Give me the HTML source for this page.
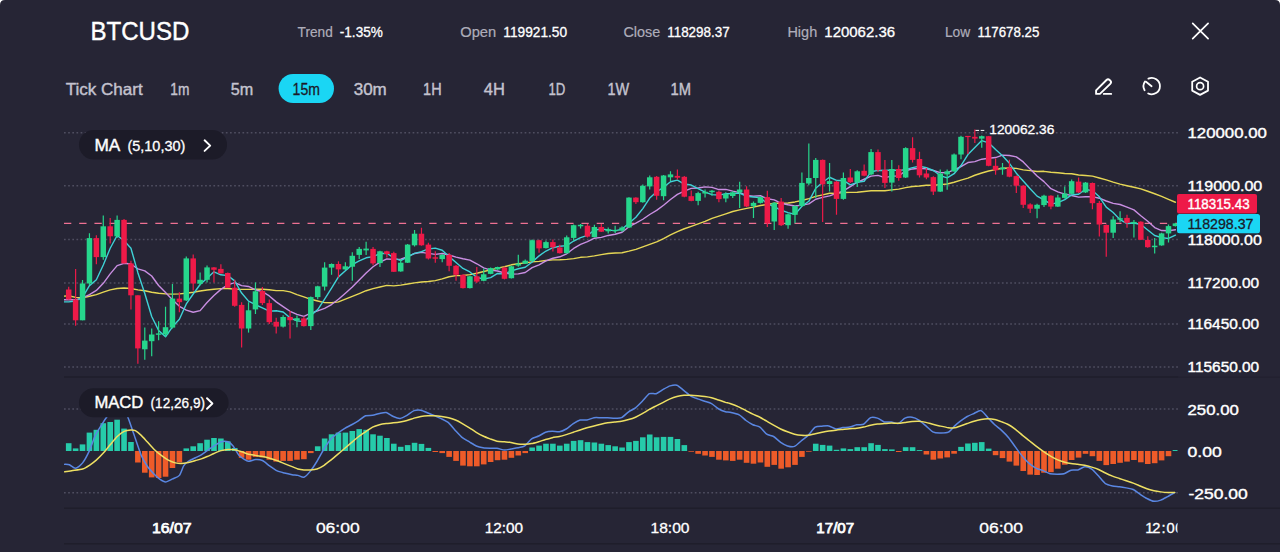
<!DOCTYPE html>
<html><head><meta charset="utf-8"><title>BTCUSD</title>
<style>html,body{margin:0;padding:0;background:#fff;overflow:hidden}svg{display:block}text{white-space:pre}</style></head>
<body>
<svg width="1280" height="552" viewBox="0 0 1280 552" font-family="'Liberation Sans', sans-serif">
<defs><clipPath id="cp"><rect x="64" y="110" width="1113.5" height="442"/></clipPath></defs>
<path d="M0,552 V5 Q0,0 5,0 H1275 Q1280,0 1280,5 V552 Z" fill="#262535"/>
<text x="90.4" y="40.4" font-size="25" fill="#fff" textLength="99.0" lengthAdjust="spacingAndGlyphs" stroke="#fff" stroke-width="0.4">BTCUSD</text>
<text x="297.6" y="36.7" font-size="14.5" fill="#aeadba" textLength="35.2" lengthAdjust="spacingAndGlyphs" stroke="#aeadba" stroke-width="0.2">Trend</text>
<text x="339.8" y="36.7" font-size="14.5" fill="#fff" textLength="43.0" lengthAdjust="spacingAndGlyphs" stroke="#fff" stroke-width="0.3">-1.35%</text>
<text x="460.2" y="36.7" font-size="14.5" fill="#aeadba" textLength="36.0" lengthAdjust="spacingAndGlyphs" stroke="#aeadba" stroke-width="0.2">Open</text>
<text x="503.3" y="36.7" font-size="14.5" fill="#fff" textLength="63.8" lengthAdjust="spacingAndGlyphs" stroke="#fff" stroke-width="0.3">119921.50</text>
<text x="623.4" y="36.7" font-size="14.5" fill="#aeadba" textLength="36.8" lengthAdjust="spacingAndGlyphs" stroke="#aeadba" stroke-width="0.2">Close</text>
<text x="667.2" y="36.7" font-size="14.5" fill="#fff" textLength="62.5" lengthAdjust="spacingAndGlyphs" stroke="#fff" stroke-width="0.3">118298.37</text>
<text x="787.4" y="36.7" font-size="14.5" fill="#aeadba" textLength="29.8" lengthAdjust="spacingAndGlyphs" stroke="#aeadba" stroke-width="0.2">High</text>
<text x="824.3" y="36.7" font-size="14.5" fill="#fff" textLength="70.8" lengthAdjust="spacingAndGlyphs" stroke="#fff" stroke-width="0.3">120062.36</text>
<text x="944.9" y="36.7" font-size="14.5" fill="#aeadba" textLength="25.3" lengthAdjust="spacingAndGlyphs" stroke="#aeadba" stroke-width="0.2">Low</text>
<text x="977.5" y="36.7" font-size="14.5" fill="#fff" textLength="61.9" lengthAdjust="spacingAndGlyphs" stroke="#fff" stroke-width="0.3">117678.25</text>
<path d="M1192.7,23.4 L1208.1,38.6 M1208.1,23.4 L1192.7,38.6" stroke="#fff" stroke-width="1.7" stroke-linecap="round" fill="none"/>
<text x="65.7" y="94.5" font-size="16.5" fill="#c4c3cf" textLength="77.0" lengthAdjust="spacingAndGlyphs" stroke="#c4c3cf" stroke-width="0.4">Tick Chart</text>
<rect x="278.6" y="74" width="55.4" height="29" rx="14.5" fill="#1ad6f4"/>
<text x="170.3" y="94.5" font-size="16.5" fill="#c4c3cf" textLength="19.1" lengthAdjust="spacingAndGlyphs" stroke="#c4c3cf" stroke-width="0.4">1m</text>
<text x="230.8" y="94.5" font-size="16.5" fill="#c4c3cf" textLength="22.5" lengthAdjust="spacingAndGlyphs" stroke="#c4c3cf" stroke-width="0.4">5m</text>
<text x="292.6" y="94.5" font-size="16.5" fill="#1b1a28" textLength="27.3" lengthAdjust="spacingAndGlyphs" stroke="#1b1a28" stroke-width="0.3">15m</text>
<text x="353.7" y="94.5" font-size="16.5" fill="#c4c3cf" textLength="33.1" lengthAdjust="spacingAndGlyphs" stroke="#c4c3cf" stroke-width="0.4">30m</text>
<text x="423.1" y="94.5" font-size="16.5" fill="#c4c3cf" textLength="18.5" lengthAdjust="spacingAndGlyphs" stroke="#c4c3cf" stroke-width="0.4">1H</text>
<text x="483.8" y="94.5" font-size="16.5" fill="#c4c3cf" textLength="21.1" lengthAdjust="spacingAndGlyphs" stroke="#c4c3cf" stroke-width="0.4">4H</text>
<text x="548.5" y="94.5" font-size="16.5" fill="#c4c3cf" textLength="16.9" lengthAdjust="spacingAndGlyphs" stroke="#c4c3cf" stroke-width="0.4">1D</text>
<text x="607.5" y="94.5" font-size="16.5" fill="#c4c3cf" textLength="21.7" lengthAdjust="spacingAndGlyphs" stroke="#c4c3cf" stroke-width="0.4">1W</text>
<text x="670.5" y="94.5" font-size="16.5" fill="#c4c3cf" textLength="20.5" lengthAdjust="spacingAndGlyphs" stroke="#c4c3cf" stroke-width="0.4">1M</text>
<g stroke="#fff" stroke-width="1.9" fill="none" stroke-linecap="round" stroke-linejoin="round"><path d="M1096.1,93.9 L1096.1,90.4 L1106.5,80 a2.2,2.2 0 0 1 3.1,0 l0.7,0.7 a2.2,2.2 0 0 1 0,3.1 L1099.9,93.9 Z"/><path d="M1103.8,93.9 H1111.2"/></g>
<g stroke="#fff" stroke-width="1.8" fill="none" stroke-linecap="round"><path d="M1148.4,78.6 A8.2,8.2 0 1 1 1148.2,93.5"/><path d="M1145,81.4 A8.2,8.2 0 0 0 1144.6,90.2"/><path d="M1146,81.8 L1151.6,86.2"/></g>
<path d="M1200.1,77.5 L1208.0,81.8 L1208.0,90.6 L1200.1,94.9 L1192.2,90.6 L1192.2,81.8 Z" stroke="#fff" stroke-width="1.8" fill="none" stroke-linejoin="round"/>
<circle cx="1200.1" cy="86.2" r="3.5" stroke="#fff" stroke-width="1.7" fill="none"/>
<line x1="64" y1="132.7" x2="1178.3" y2="132.7" stroke="#4f4e60" stroke-width="1.5" stroke-dasharray="1.7 2.45"/>
<line x1="64" y1="185.8" x2="1178.3" y2="185.8" stroke="#4f4e60" stroke-width="1.5" stroke-dasharray="1.7 2.45"/>
<line x1="64" y1="239.6" x2="1178.3" y2="239.6" stroke="#4f4e60" stroke-width="1.5" stroke-dasharray="1.7 2.45"/>
<line x1="64" y1="283.1" x2="1178.3" y2="283.1" stroke="#4f4e60" stroke-width="1.5" stroke-dasharray="1.7 2.45"/>
<line x1="64" y1="323.9" x2="1178.3" y2="323.9" stroke="#4f4e60" stroke-width="1.5" stroke-dasharray="1.7 2.45"/>
<line x1="64" y1="367.1" x2="1178.3" y2="367.1" stroke="#4f4e60" stroke-width="1.5" stroke-dasharray="1.7 2.45"/>
<line x1="64" y1="409" x2="1178.3" y2="409" stroke="#4f4e60" stroke-width="1.5" stroke-dasharray="1.7 2.45"/>
<line x1="64" y1="492.8" x2="1178.3" y2="492.8" stroke="#4f4e60" stroke-width="1.5" stroke-dasharray="1.7 2.45"/>
<line x1="64" y1="377" x2="1178.3" y2="377" stroke="#1f1e2b" stroke-width="1.6"/>
<line x1="1178.3" y1="377.3" x2="1280" y2="377.3" stroke="#222130" stroke-width="1.6"/>
<line x1="64" y1="508.3" x2="1280" y2="508.3" stroke="#1f1e2b" stroke-width="1.4"/>
<line x1="64" y1="543.8" x2="1280" y2="543.8" stroke="#1f1e2b" stroke-width="1.4"/>
<line x1="64" y1="223.3" x2="1177" y2="223.3" stroke="#ef7193" stroke-width="1.25" stroke-dasharray="7.3 7.92"/>
<g clip-path="url(#cp)">
<path d="M64.00,296.10 L68.70,295.80 L75.62,297.40 L82.53,297.90 L89.45,296.30 L96.37,294.60 L103.28,292.20 L110.20,289.90 L117.12,288.50 L124.04,288.00 L130.95,288.50 L137.87,289.90 L144.79,290.80 L151.70,292.20 L158.62,293.20 L165.54,293.90 L172.45,294.10 L179.37,293.90 L186.29,293.20 L193.21,292.30 L200.12,291.00 L207.04,290.00 L213.96,289.30 L220.87,288.60 L227.79,288.50 L234.71,289.10 L241.62,289.40 L248.54,289.40 L255.46,289.20 L262.38,289.20 L269.29,289.70 L276.21,290.64 L283.13,290.58 L290.04,291.84 L296.96,294.55 L303.88,296.89 L310.80,299.29 L317.71,301.00 L324.63,302.63 L331.55,302.70 L338.46,301.87 L345.38,299.18 L352.30,296.39 L359.21,293.54 L366.13,290.71 L373.05,288.59 L379.96,287.01 L386.88,285.40 L393.80,285.85 L400.72,285.16 L407.63,283.98 L414.55,282.86 L421.47,282.04 L428.38,281.55 L435.30,280.58 L442.22,278.88 L449.13,276.79 L456.05,275.61 L462.97,275.50 L469.89,274.61 L476.80,273.25 L483.72,271.51 L490.64,269.88 L497.55,268.11 L504.47,266.79 L511.39,264.80 L518.30,263.69 L525.22,262.83 L532.14,261.92 L539.06,261.40 L545.97,260.49 L552.89,259.86 L559.81,259.77 L566.72,259.38 L573.64,258.60 L580.56,257.32 L587.48,256.83 L594.39,255.93 L601.31,254.59 L608.23,253.48 L615.14,252.99 L622.06,252.78 L628.98,251.19 L635.89,249.31 L642.81,246.88 L649.73,244.30 L656.64,241.96 L663.56,238.65 L670.48,234.86 L677.40,231.58 L684.31,228.75 L691.23,226.30 L698.15,223.80 L705.06,221.29 L711.98,218.36 L718.90,216.12 L725.82,213.79 L732.73,211.51 L739.65,209.82 L746.57,208.43 L753.48,207.12 L760.40,205.45 L767.32,204.45 L774.23,203.30 L781.15,203.30 L788.07,202.95 L794.99,201.94 L801.90,200.47 L808.82,198.68 L815.74,196.36 L822.65,194.85 L829.57,193.30 L836.49,193.34 L843.40,192.54 L850.32,192.42 L857.24,192.22 L864.15,191.55 L871.07,190.77 L877.99,190.63 L884.91,190.80 L891.82,189.88 L898.74,189.11 L905.66,187.61 L912.57,186.55 L919.49,186.04 L926.41,185.32 L933.33,185.24 L940.24,184.61 L947.16,184.00 L954.08,182.27 L960.99,180.07 L967.91,178.06 L974.83,175.23 L981.74,173.01 L988.66,171.03 L995.58,169.56 L1002.50,168.28 L1009.41,168.07 L1016.33,168.33 L1023.25,169.83 L1030.16,170.64 L1037.08,171.43 L1044.00,171.32 L1050.91,172.27 L1057.83,172.78 L1064.75,173.52 L1071.66,173.71 L1078.58,175.05 L1085.50,175.46 L1092.42,176.14 L1099.33,177.99 L1106.25,179.81 L1113.17,182.19 L1120.08,184.14 L1127.00,185.72 L1133.92,187.20 L1140.84,188.81 L1147.75,191.26 L1154.67,193.74 L1161.59,196.37 L1168.50,199.35 L1175.42,202.24" stroke="#e6d755" stroke-width="1.4" fill="none" stroke-linejoin="round" stroke-linecap="round"/>
<path d="M64.00,299.80 L68.70,299.80 L75.62,299.80 L82.53,297.90 L89.45,294.60 L96.37,290.40 L103.28,283.30 L110.20,273.90 L117.12,265.60 L124.04,263.30 L130.95,263.97 L137.87,268.86 L144.79,270.89 L151.70,275.99 L158.62,285.52 L165.54,292.53 L172.45,299.76 L179.37,306.35 L186.29,310.20 L193.21,312.21 L200.12,310.66 L207.04,302.56 L213.96,295.48 L220.87,289.37 L227.79,284.81 L234.71,282.67 L241.62,285.66 L248.54,286.47 L255.46,289.76 L262.38,291.72 L269.29,295.96 L276.21,301.88 L283.13,306.60 L290.04,311.28 L296.96,314.32 L303.88,316.35 L310.80,313.21 L317.71,310.81 L324.63,308.44 L331.55,304.53 L338.46,299.25 L345.38,293.22 L352.30,287.10 L359.21,279.97 L366.13,273.01 L373.05,266.74 L379.96,262.16 L386.88,258.93 L393.80,259.35 L400.72,259.22 L407.63,256.74 L414.55,253.48 L421.47,252.43 L428.38,253.39 L435.30,254.40 L442.22,253.55 L449.13,255.00 L456.05,257.08 L462.97,258.71 L469.89,260.07 L476.80,263.77 L483.72,267.83 L490.64,270.11 L497.55,270.96 L504.47,272.97 L511.39,274.11 L518.30,273.90 L525.22,272.49 L532.14,267.70 L539.06,264.91 L545.97,260.96 L552.89,258.26 L559.81,256.77 L566.72,253.80 L573.64,248.44 L580.56,244.29 L587.48,241.58 L594.39,238.21 L601.31,237.36 L608.23,235.45 L615.14,234.23 L622.06,232.25 L628.98,226.69 L635.89,223.18 L642.81,219.24 L649.73,214.49 L656.64,210.41 L663.56,205.26 L670.48,199.53 L677.40,194.37 L684.31,191.05 L691.23,188.39 L698.15,187.94 L705.06,186.90 L711.98,187.39 L718.90,189.57 L725.82,189.39 L732.73,191.07 L739.65,192.58 L746.57,195.46 L753.48,196.08 L760.40,195.70 L767.32,198.72 L774.23,199.83 L781.15,203.28 L788.07,204.80 L794.99,206.01 L801.90,205.07 L808.82,203.92 L815.74,199.26 L822.65,197.41 L829.57,195.81 L836.49,193.37 L843.40,190.88 L850.32,186.58 L857.24,182.28 L864.15,179.24 L871.07,176.16 L877.99,175.38 L884.91,177.68 L891.82,176.14 L898.74,175.83 L905.66,170.75 L912.57,168.94 L919.49,168.25 L926.41,168.87 L933.33,170.46 L940.24,172.60 L947.16,172.71 L954.08,169.87 L960.99,166.65 L967.91,162.53 L974.83,161.58 L981.74,159.21 L988.66,158.26 L995.58,157.54 L1002.50,155.14 L1009.41,155.46 L1016.33,156.90 L1023.25,161.93 L1030.16,169.12 L1037.08,175.92 L1044.00,181.63 L1050.91,188.67 L1057.83,191.84 L1064.75,194.16 L1071.66,195.52 L1078.58,197.09 L1085.50,196.78 L1092.42,196.62 L1099.33,198.20 L1106.25,200.99 L1113.17,203.37 L1120.08,204.53 L1127.00,207.06 L1133.92,209.90 L1140.84,215.76 L1147.75,221.24 L1154.67,227.55 L1161.59,230.57 L1168.50,230.73 L1175.42,229.80" stroke="#c98ee2" stroke-width="1.4" fill="none" stroke-linejoin="round" stroke-linecap="round"/>
<path d="M64.00,301.90 L68.70,301.90 L75.62,301.00 L82.53,297.40 L89.45,285.70 L96.37,279.70 L103.28,265.06 L110.20,248.26 L117.12,235.54 L124.04,240.60 L130.95,248.24 L137.87,272.66 L144.79,293.52 L151.70,316.44 L158.62,330.44 L165.54,336.82 L172.45,326.86 L179.37,319.18 L186.29,303.96 L193.21,293.98 L200.12,284.50 L207.04,278.26 L213.96,271.78 L220.87,274.78 L227.79,275.64 L234.71,280.84 L241.62,293.06 L248.54,301.16 L255.46,304.74 L262.38,307.80 L269.29,311.08 L276.21,310.70 L283.13,312.04 L290.04,317.82 L296.96,320.84 L303.88,321.62 L310.80,315.72 L317.71,309.58 L324.63,299.06 L331.55,288.22 L338.46,276.88 L345.38,270.72 L352.30,264.62 L359.21,260.88 L366.13,257.80 L373.05,256.60 L379.96,253.60 L386.88,253.24 L393.80,257.82 L400.72,260.64 L407.63,256.88 L414.55,253.36 L421.47,251.62 L428.38,248.96 L435.30,248.16 L442.22,250.22 L449.13,256.64 L456.05,262.54 L462.97,268.46 L469.89,271.98 L476.80,277.32 L483.72,279.02 L490.64,277.68 L497.55,273.46 L504.47,273.96 L511.39,270.90 L518.30,268.78 L525.22,267.30 L532.14,261.94 L539.06,255.86 L545.97,251.02 L552.89,247.74 L559.81,246.24 L566.72,245.66 L573.64,241.02 L580.56,237.56 L587.48,235.42 L594.39,230.18 L601.31,229.06 L608.23,229.88 L615.14,230.90 L622.06,229.08 L628.98,223.20 L635.89,217.30 L642.81,208.60 L649.73,198.08 L656.64,191.74 L663.56,187.32 L670.48,181.76 L677.40,180.14 L684.31,184.02 L691.23,185.04 L698.15,188.56 L705.06,192.04 L711.98,194.64 L718.90,195.12 L725.82,193.74 L732.73,193.58 L739.65,193.12 L746.57,196.28 L753.48,197.04 L760.40,197.66 L767.32,203.86 L774.23,206.54 L781.15,210.28 L788.07,212.56 L794.99,214.36 L801.90,206.28 L808.82,201.30 L815.74,188.24 L822.65,182.26 L829.57,177.26 L836.49,180.46 L843.40,180.46 L850.32,184.92 L857.24,182.30 L864.15,181.22 L871.07,171.86 L877.99,170.30 L884.91,170.44 L891.82,169.98 L898.74,170.44 L905.66,169.64 L912.57,167.58 L919.49,166.06 L926.41,167.76 L933.33,170.48 L940.24,175.56 L947.16,177.84 L954.08,173.68 L960.99,165.54 L967.91,154.58 L974.83,147.60 L981.74,140.58 L988.66,142.84 L995.58,149.54 L1002.50,155.70 L1009.41,163.32 L1016.33,173.22 L1023.25,181.02 L1030.16,188.70 L1037.08,196.14 L1044.00,199.94 L1050.91,204.12 L1057.83,202.66 L1064.75,199.62 L1071.66,194.90 L1078.58,194.24 L1085.50,189.44 L1092.42,190.58 L1099.33,196.78 L1106.25,207.08 L1113.17,212.50 L1120.08,219.62 L1127.00,223.54 L1133.92,223.02 L1140.84,224.44 L1147.75,229.98 L1154.67,235.48 L1161.59,237.60 L1168.50,238.44 L1175.42,235.16" stroke="#3fd2d6" stroke-width="1.4" fill="none" stroke-linejoin="round" stroke-linecap="round"/>
<line x1="68.70" y1="286.8" x2="68.70" y2="299.5" stroke="#ee1a48" stroke-width="1.2"/>
<rect x="65.95" y="289.5" width="5.5" height="10.00" fill="#ee1a48"/>
<line x1="75.62" y1="268.9" x2="75.62" y2="325.8" stroke="#ee1a48" stroke-width="1.2"/>
<rect x="72.87" y="299.5" width="5.5" height="20.80" fill="#ee1a48"/>
<line x1="82.53" y1="280.0" x2="82.53" y2="320.3" stroke="#26d68c" stroke-width="1.2"/>
<rect x="79.78" y="283.5" width="5.5" height="36.80" fill="#26d68c"/>
<line x1="89.45" y1="233.2" x2="89.45" y2="285.0" stroke="#26d68c" stroke-width="1.2"/>
<rect x="86.70" y="238.1" width="5.5" height="45.40" fill="#26d68c"/>
<line x1="96.37" y1="235.3" x2="96.37" y2="264.3" stroke="#ee1a48" stroke-width="1.2"/>
<rect x="93.62" y="238.1" width="5.5" height="19.00" fill="#ee1a48"/>
<line x1="103.28" y1="215.4" x2="103.28" y2="259.8" stroke="#26d68c" stroke-width="1.2"/>
<rect x="100.53" y="226.3" width="5.5" height="30.80" fill="#26d68c"/>
<line x1="110.20" y1="218.1" x2="110.20" y2="243.5" stroke="#ee1a48" stroke-width="1.2"/>
<rect x="107.45" y="226.3" width="5.5" height="10.00" fill="#ee1a48"/>
<line x1="117.12" y1="215.4" x2="117.12" y2="238.0" stroke="#26d68c" stroke-width="1.2"/>
<rect x="114.37" y="219.9" width="5.5" height="16.40" fill="#26d68c"/>
<line x1="124.04" y1="219.0" x2="124.04" y2="263.4" stroke="#ee1a48" stroke-width="1.2"/>
<rect x="121.29" y="219.9" width="5.5" height="43.50" fill="#ee1a48"/>
<line x1="130.95" y1="260.7" x2="130.95" y2="309.4" stroke="#ee1a48" stroke-width="1.2"/>
<rect x="128.20" y="263.4" width="5.5" height="31.90" fill="#ee1a48"/>
<line x1="137.87" y1="295.3" x2="137.87" y2="363.8" stroke="#ee1a48" stroke-width="1.2"/>
<rect x="135.12" y="295.3" width="5.5" height="53.10" fill="#ee1a48"/>
<line x1="144.79" y1="327.6" x2="144.79" y2="359.8" stroke="#26d68c" stroke-width="1.2"/>
<rect x="142.04" y="340.6" width="5.5" height="8.70" fill="#26d68c"/>
<line x1="151.70" y1="328.5" x2="151.70" y2="356.2" stroke="#26d68c" stroke-width="1.2"/>
<rect x="148.95" y="334.5" width="5.5" height="6.70" fill="#26d68c"/>
<line x1="158.62" y1="321.2" x2="158.62" y2="340.3" stroke="#26d68c" stroke-width="1.2"/>
<rect x="155.87" y="333.4" width="5.5" height="1.40" fill="#26d68c"/>
<line x1="165.54" y1="306.7" x2="165.54" y2="336.6" stroke="#26d68c" stroke-width="1.2"/>
<rect x="162.79" y="327.2" width="5.5" height="7.30" fill="#26d68c"/>
<line x1="172.45" y1="284.0" x2="172.45" y2="328.5" stroke="#26d68c" stroke-width="1.2"/>
<rect x="169.70" y="298.6" width="5.5" height="29.00" fill="#26d68c"/>
<line x1="179.37" y1="292.3" x2="179.37" y2="312.2" stroke="#ee1a48" stroke-width="1.2"/>
<rect x="176.62" y="298.6" width="5.5" height="3.60" fill="#ee1a48"/>
<line x1="186.29" y1="256.6" x2="186.29" y2="301.0" stroke="#26d68c" stroke-width="1.2"/>
<rect x="183.54" y="258.4" width="5.5" height="42.00" fill="#26d68c"/>
<line x1="193.21" y1="254.4" x2="193.21" y2="290.5" stroke="#ee1a48" stroke-width="1.2"/>
<rect x="190.46" y="258.4" width="5.5" height="25.10" fill="#ee1a48"/>
<line x1="200.12" y1="272.5" x2="200.12" y2="285.2" stroke="#26d68c" stroke-width="1.2"/>
<rect x="197.37" y="279.8" width="5.5" height="3.90" fill="#26d68c"/>
<line x1="207.04" y1="265.6" x2="207.04" y2="282.5" stroke="#26d68c" stroke-width="1.2"/>
<rect x="204.29" y="267.4" width="5.5" height="12.40" fill="#26d68c"/>
<line x1="213.96" y1="267.1" x2="213.96" y2="282.5" stroke="#ee1a48" stroke-width="1.2"/>
<rect x="211.21" y="267.4" width="5.5" height="2.40" fill="#ee1a48"/>
<line x1="220.87" y1="264.3" x2="220.87" y2="273.4" stroke="#ee1a48" stroke-width="1.2"/>
<rect x="218.12" y="268.9" width="5.5" height="4.50" fill="#ee1a48"/>
<line x1="227.79" y1="272.5" x2="227.79" y2="287.8" stroke="#ee1a48" stroke-width="1.2"/>
<rect x="225.04" y="273.0" width="5.5" height="14.80" fill="#ee1a48"/>
<line x1="234.71" y1="279.8" x2="234.71" y2="306.7" stroke="#ee1a48" stroke-width="1.2"/>
<rect x="231.96" y="287.7" width="5.5" height="18.10" fill="#ee1a48"/>
<line x1="241.62" y1="302.2" x2="241.62" y2="347.5" stroke="#ee1a48" stroke-width="1.2"/>
<rect x="238.88" y="304.9" width="5.5" height="23.60" fill="#ee1a48"/>
<line x1="248.54" y1="302.2" x2="248.54" y2="332.6" stroke="#26d68c" stroke-width="1.2"/>
<rect x="245.79" y="310.3" width="5.5" height="18.20" fill="#26d68c"/>
<line x1="255.46" y1="282.4" x2="255.46" y2="314.0" stroke="#26d68c" stroke-width="1.2"/>
<rect x="252.71" y="291.3" width="5.5" height="18.10" fill="#26d68c"/>
<line x1="262.38" y1="286.9" x2="262.38" y2="304.9" stroke="#ee1a48" stroke-width="1.2"/>
<rect x="259.63" y="291.0" width="5.5" height="12.10" fill="#ee1a48"/>
<line x1="269.29" y1="299.5" x2="269.29" y2="323.9" stroke="#ee1a48" stroke-width="1.2"/>
<rect x="266.54" y="303.1" width="5.5" height="19.10" fill="#ee1a48"/>
<line x1="276.21" y1="317.8" x2="276.21" y2="333.4" stroke="#ee1a48" stroke-width="1.2"/>
<rect x="273.46" y="321.8" width="5.5" height="4.80" fill="#ee1a48"/>
<line x1="283.13" y1="315.2" x2="283.13" y2="327.6" stroke="#26d68c" stroke-width="1.2"/>
<rect x="280.38" y="317.0" width="5.5" height="9.60" fill="#26d68c"/>
<line x1="290.04" y1="311.0" x2="290.04" y2="338.5" stroke="#ee1a48" stroke-width="1.2"/>
<rect x="287.29" y="317.0" width="5.5" height="3.20" fill="#ee1a48"/>
<line x1="296.96" y1="315.5" x2="296.96" y2="327.2" stroke="#26d68c" stroke-width="1.2"/>
<rect x="294.21" y="318.2" width="5.5" height="2.40" fill="#26d68c"/>
<line x1="303.88" y1="316.4" x2="303.88" y2="326.5" stroke="#ee1a48" stroke-width="1.2"/>
<rect x="301.13" y="318.4" width="5.5" height="7.70" fill="#ee1a48"/>
<line x1="310.80" y1="296.6" x2="310.80" y2="329.9" stroke="#26d68c" stroke-width="1.2"/>
<rect x="308.05" y="297.1" width="5.5" height="29.00" fill="#26d68c"/>
<line x1="317.71" y1="285.7" x2="317.71" y2="299.3" stroke="#26d68c" stroke-width="1.2"/>
<rect x="314.96" y="286.3" width="5.5" height="10.80" fill="#26d68c"/>
<line x1="324.63" y1="262.2" x2="324.63" y2="290.6" stroke="#26d68c" stroke-width="1.2"/>
<rect x="321.88" y="267.6" width="5.5" height="19.00" fill="#26d68c"/>
<line x1="331.55" y1="263.4" x2="331.55" y2="274.8" stroke="#26d68c" stroke-width="1.2"/>
<rect x="328.80" y="264.0" width="5.5" height="3.60" fill="#26d68c"/>
<line x1="338.46" y1="261.3" x2="338.46" y2="277.6" stroke="#ee1a48" stroke-width="1.2"/>
<rect x="335.71" y="264.0" width="5.5" height="5.40" fill="#ee1a48"/>
<line x1="345.38" y1="262.2" x2="345.38" y2="270.0" stroke="#26d68c" stroke-width="1.2"/>
<rect x="342.63" y="266.3" width="5.5" height="3.10" fill="#26d68c"/>
<line x1="352.30" y1="252.2" x2="352.30" y2="280.8" stroke="#26d68c" stroke-width="1.2"/>
<rect x="349.55" y="255.8" width="5.5" height="10.90" fill="#26d68c"/>
<line x1="359.21" y1="247.1" x2="359.21" y2="259.1" stroke="#26d68c" stroke-width="1.2"/>
<rect x="356.46" y="248.9" width="5.5" height="6.00" fill="#26d68c"/>
<line x1="366.13" y1="241.7" x2="366.13" y2="254.9" stroke="#26d68c" stroke-width="1.2"/>
<rect x="363.38" y="248.6" width="5.5" height="1.80" fill="#26d68c"/>
<line x1="373.05" y1="247.1" x2="373.05" y2="265.2" stroke="#ee1a48" stroke-width="1.2"/>
<rect x="370.30" y="248.9" width="5.5" height="14.50" fill="#ee1a48"/>
<line x1="379.96" y1="250.7" x2="379.96" y2="267.0" stroke="#26d68c" stroke-width="1.2"/>
<rect x="377.21" y="251.3" width="5.5" height="11.80" fill="#26d68c"/>
<line x1="386.88" y1="250.7" x2="386.88" y2="257.6" stroke="#ee1a48" stroke-width="1.2"/>
<rect x="384.13" y="251.3" width="5.5" height="2.70" fill="#ee1a48"/>
<line x1="393.80" y1="251.8" x2="393.80" y2="272.1" stroke="#ee1a48" stroke-width="1.2"/>
<rect x="391.05" y="253.1" width="5.5" height="18.70" fill="#ee1a48"/>
<line x1="400.72" y1="259.4" x2="400.72" y2="271.8" stroke="#26d68c" stroke-width="1.2"/>
<rect x="397.97" y="262.7" width="5.5" height="8.70" fill="#26d68c"/>
<line x1="407.63" y1="244.0" x2="407.63" y2="263.1" stroke="#26d68c" stroke-width="1.2"/>
<rect x="404.88" y="244.6" width="5.5" height="18.10" fill="#26d68c"/>
<line x1="414.55" y1="230.1" x2="414.55" y2="246.4" stroke="#26d68c" stroke-width="1.2"/>
<rect x="411.80" y="233.7" width="5.5" height="11.60" fill="#26d68c"/>
<line x1="421.47" y1="227.7" x2="421.47" y2="245.8" stroke="#ee1a48" stroke-width="1.2"/>
<rect x="418.72" y="233.7" width="5.5" height="11.60" fill="#ee1a48"/>
<line x1="428.38" y1="242.8" x2="428.38" y2="259.4" stroke="#ee1a48" stroke-width="1.2"/>
<rect x="425.63" y="244.6" width="5.5" height="13.90" fill="#ee1a48"/>
<line x1="435.30" y1="251.3" x2="435.30" y2="262.7" stroke="#ee1a48" stroke-width="1.2"/>
<rect x="432.55" y="257.3" width="5.5" height="1.40" fill="#ee1a48"/>
<line x1="442.22" y1="254.0" x2="442.22" y2="262.2" stroke="#26d68c" stroke-width="1.2"/>
<rect x="439.47" y="254.9" width="5.5" height="4.20" fill="#26d68c"/>
<line x1="449.13" y1="253.1" x2="449.13" y2="271.2" stroke="#ee1a48" stroke-width="1.2"/>
<rect x="446.38" y="254.9" width="5.5" height="10.90" fill="#ee1a48"/>
<line x1="456.05" y1="264.9" x2="456.05" y2="280.8" stroke="#ee1a48" stroke-width="1.2"/>
<rect x="453.30" y="265.8" width="5.5" height="9.00" fill="#ee1a48"/>
<line x1="462.97" y1="274.3" x2="462.97" y2="288.4" stroke="#ee1a48" stroke-width="1.2"/>
<rect x="460.22" y="274.8" width="5.5" height="13.30" fill="#ee1a48"/>
<line x1="469.89" y1="275.8" x2="469.89" y2="288.4" stroke="#26d68c" stroke-width="1.2"/>
<rect x="467.14" y="276.3" width="5.5" height="11.80" fill="#26d68c"/>
<line x1="476.80" y1="267.1" x2="476.80" y2="283.0" stroke="#ee1a48" stroke-width="1.2"/>
<rect x="474.05" y="276.3" width="5.5" height="5.30" fill="#ee1a48"/>
<line x1="483.72" y1="268.5" x2="483.72" y2="281.2" stroke="#26d68c" stroke-width="1.2"/>
<rect x="480.97" y="274.3" width="5.5" height="6.50" fill="#26d68c"/>
<line x1="490.64" y1="267.6" x2="490.64" y2="274.3" stroke="#26d68c" stroke-width="1.2"/>
<rect x="487.89" y="268.1" width="5.5" height="5.80" fill="#26d68c"/>
<line x1="497.55" y1="266.7" x2="497.55" y2="269.8" stroke="#26d68c" stroke-width="1.2"/>
<rect x="494.80" y="267.0" width="5.5" height="2.40" fill="#26d68c"/>
<line x1="504.47" y1="266.7" x2="504.47" y2="279.4" stroke="#ee1a48" stroke-width="1.2"/>
<rect x="501.72" y="267.6" width="5.5" height="11.20" fill="#ee1a48"/>
<line x1="511.39" y1="265.8" x2="511.39" y2="278.5" stroke="#26d68c" stroke-width="1.2"/>
<rect x="508.64" y="266.3" width="5.5" height="11.90" fill="#26d68c"/>
<line x1="518.30" y1="254.7" x2="518.30" y2="266.7" stroke="#26d68c" stroke-width="1.2"/>
<rect x="515.55" y="263.7" width="5.5" height="1.90" fill="#26d68c"/>
<line x1="525.22" y1="259.6" x2="525.22" y2="264.0" stroke="#26d68c" stroke-width="1.2"/>
<rect x="522.47" y="260.7" width="5.5" height="3.00" fill="#26d68c"/>
<line x1="532.14" y1="239.4" x2="532.14" y2="261.2" stroke="#26d68c" stroke-width="1.2"/>
<rect x="529.39" y="240.2" width="5.5" height="20.80" fill="#26d68c"/>
<line x1="539.06" y1="239.8" x2="539.06" y2="252.7" stroke="#ee1a48" stroke-width="1.2"/>
<rect x="536.31" y="240.2" width="5.5" height="8.20" fill="#ee1a48"/>
<line x1="545.97" y1="240.5" x2="545.97" y2="248.4" stroke="#26d68c" stroke-width="1.2"/>
<rect x="543.22" y="242.1" width="5.5" height="6.00" fill="#26d68c"/>
<line x1="552.89" y1="239.6" x2="552.89" y2="251.5" stroke="#ee1a48" stroke-width="1.2"/>
<rect x="550.14" y="242.1" width="5.5" height="5.20" fill="#ee1a48"/>
<line x1="559.81" y1="244.8" x2="559.81" y2="253.5" stroke="#ee1a48" stroke-width="1.2"/>
<rect x="557.06" y="247.5" width="5.5" height="5.70" fill="#ee1a48"/>
<line x1="566.72" y1="235.6" x2="566.72" y2="253.6" stroke="#26d68c" stroke-width="1.2"/>
<rect x="563.97" y="237.3" width="5.5" height="15.90" fill="#26d68c"/>
<line x1="573.64" y1="224.5" x2="573.64" y2="240.8" stroke="#26d68c" stroke-width="1.2"/>
<rect x="570.89" y="225.2" width="5.5" height="12.70" fill="#26d68c"/>
<line x1="580.56" y1="223.9" x2="580.56" y2="228.4" stroke="#26d68c" stroke-width="1.2"/>
<rect x="577.81" y="224.8" width="5.5" height="1.50" fill="#26d68c"/>
<line x1="587.48" y1="223.9" x2="587.48" y2="237.5" stroke="#ee1a48" stroke-width="1.2"/>
<rect x="584.73" y="225.7" width="5.5" height="10.90" fill="#ee1a48"/>
<line x1="594.39" y1="224.8" x2="594.39" y2="237.5" stroke="#26d68c" stroke-width="1.2"/>
<rect x="591.64" y="227.0" width="5.5" height="10.10" fill="#26d68c"/>
<line x1="601.31" y1="223.9" x2="601.31" y2="232.1" stroke="#ee1a48" stroke-width="1.2"/>
<rect x="598.56" y="227.0" width="5.5" height="4.70" fill="#ee1a48"/>
<line x1="608.23" y1="227.5" x2="608.23" y2="233.5" stroke="#26d68c" stroke-width="1.2"/>
<rect x="605.48" y="229.3" width="5.5" height="2.00" fill="#26d68c"/>
<line x1="615.14" y1="225.7" x2="615.14" y2="233.0" stroke="#26d68c" stroke-width="1.2"/>
<rect x="612.39" y="229.9" width="5.5" height="1.20" fill="#26d68c"/>
<line x1="622.06" y1="226.3" x2="622.06" y2="231.7" stroke="#26d68c" stroke-width="1.2"/>
<rect x="619.31" y="227.5" width="5.5" height="3.10" fill="#26d68c"/>
<line x1="628.98" y1="197.3" x2="628.98" y2="228.1" stroke="#26d68c" stroke-width="1.2"/>
<rect x="626.23" y="197.6" width="5.5" height="29.90" fill="#26d68c"/>
<line x1="635.89" y1="197.3" x2="635.89" y2="204.0" stroke="#ee1a48" stroke-width="1.2"/>
<rect x="633.14" y="197.6" width="5.5" height="4.60" fill="#ee1a48"/>
<line x1="642.81" y1="184.6" x2="642.81" y2="202.7" stroke="#26d68c" stroke-width="1.2"/>
<rect x="640.06" y="185.8" width="5.5" height="16.40" fill="#26d68c"/>
<line x1="649.73" y1="175.5" x2="649.73" y2="189.5" stroke="#26d68c" stroke-width="1.2"/>
<rect x="646.98" y="177.3" width="5.5" height="9.10" fill="#26d68c"/>
<line x1="656.64" y1="175.9" x2="656.64" y2="199.8" stroke="#ee1a48" stroke-width="1.2"/>
<rect x="653.89" y="176.8" width="5.5" height="19.00" fill="#ee1a48"/>
<line x1="663.56" y1="175.0" x2="663.56" y2="200.3" stroke="#26d68c" stroke-width="1.2"/>
<rect x="660.81" y="175.5" width="5.5" height="20.70" fill="#26d68c"/>
<line x1="670.48" y1="171.3" x2="670.48" y2="181.0" stroke="#26d68c" stroke-width="1.2"/>
<rect x="667.73" y="174.4" width="5.5" height="2.90" fill="#26d68c"/>
<line x1="677.40" y1="169.5" x2="677.40" y2="179.5" stroke="#ee1a48" stroke-width="1.2"/>
<rect x="674.65" y="175.9" width="5.5" height="1.80" fill="#ee1a48"/>
<line x1="684.31" y1="175.9" x2="684.31" y2="197.3" stroke="#ee1a48" stroke-width="1.2"/>
<rect x="681.56" y="176.8" width="5.5" height="19.90" fill="#ee1a48"/>
<line x1="691.23" y1="190.4" x2="691.23" y2="201.3" stroke="#ee1a48" stroke-width="1.2"/>
<rect x="688.48" y="196.2" width="5.5" height="4.70" fill="#ee1a48"/>
<line x1="698.15" y1="191.8" x2="698.15" y2="205.2" stroke="#26d68c" stroke-width="1.2"/>
<rect x="695.40" y="193.1" width="5.5" height="7.80" fill="#26d68c"/>
<line x1="705.06" y1="189.5" x2="705.06" y2="197.6" stroke="#26d68c" stroke-width="1.2"/>
<rect x="702.31" y="191.8" width="5.5" height="1.70" fill="#26d68c"/>
<line x1="711.98" y1="190.0" x2="711.98" y2="195.8" stroke="#26d68c" stroke-width="1.2"/>
<rect x="709.23" y="190.7" width="5.5" height="1.50" fill="#26d68c"/>
<line x1="718.90" y1="190.7" x2="718.90" y2="202.2" stroke="#ee1a48" stroke-width="1.2"/>
<rect x="716.15" y="191.8" width="5.5" height="7.30" fill="#ee1a48"/>
<line x1="725.82" y1="192.2" x2="725.82" y2="202.2" stroke="#26d68c" stroke-width="1.2"/>
<rect x="723.07" y="194.0" width="5.5" height="4.50" fill="#26d68c"/>
<line x1="732.73" y1="191.3" x2="732.73" y2="198.0" stroke="#26d68c" stroke-width="1.2"/>
<rect x="729.98" y="192.3" width="5.5" height="3.70" fill="#26d68c"/>
<line x1="739.65" y1="181.7" x2="739.65" y2="207.9" stroke="#26d68c" stroke-width="1.2"/>
<rect x="736.90" y="189.5" width="5.5" height="3.00" fill="#26d68c"/>
<line x1="746.57" y1="186.2" x2="746.57" y2="207.0" stroke="#ee1a48" stroke-width="1.2"/>
<rect x="743.82" y="189.5" width="5.5" height="17.00" fill="#ee1a48"/>
<line x1="753.48" y1="201.6" x2="753.48" y2="217.9" stroke="#26d68c" stroke-width="1.2"/>
<rect x="750.73" y="202.9" width="5.5" height="3.20" fill="#26d68c"/>
<line x1="760.40" y1="196.2" x2="760.40" y2="203.4" stroke="#26d68c" stroke-width="1.2"/>
<rect x="757.65" y="197.1" width="5.5" height="5.80" fill="#26d68c"/>
<line x1="767.32" y1="190.7" x2="767.32" y2="227.0" stroke="#ee1a48" stroke-width="1.2"/>
<rect x="764.57" y="197.1" width="5.5" height="26.20" fill="#ee1a48"/>
<line x1="774.23" y1="202.1" x2="774.23" y2="230.0" stroke="#26d68c" stroke-width="1.2"/>
<rect x="771.48" y="202.9" width="5.5" height="18.60" fill="#26d68c"/>
<line x1="781.15" y1="198.0" x2="781.15" y2="226.1" stroke="#ee1a48" stroke-width="1.2"/>
<rect x="778.40" y="201.6" width="5.5" height="23.60" fill="#ee1a48"/>
<line x1="788.07" y1="213.4" x2="788.07" y2="228.8" stroke="#26d68c" stroke-width="1.2"/>
<rect x="785.32" y="214.3" width="5.5" height="10.90" fill="#26d68c"/>
<line x1="794.99" y1="205.2" x2="794.99" y2="223.3" stroke="#26d68c" stroke-width="1.2"/>
<rect x="792.24" y="206.1" width="5.5" height="8.70" fill="#26d68c"/>
<line x1="801.90" y1="172.6" x2="801.90" y2="206.5" stroke="#26d68c" stroke-width="1.2"/>
<rect x="799.15" y="182.9" width="5.5" height="23.20" fill="#26d68c"/>
<line x1="808.82" y1="143.6" x2="808.82" y2="185.3" stroke="#26d68c" stroke-width="1.2"/>
<rect x="806.07" y="178.0" width="5.5" height="5.50" fill="#26d68c"/>
<line x1="815.74" y1="158.1" x2="815.74" y2="198.0" stroke="#26d68c" stroke-width="1.2"/>
<rect x="812.99" y="159.9" width="5.5" height="18.10" fill="#26d68c"/>
<line x1="822.65" y1="159.4" x2="822.65" y2="222.1" stroke="#ee1a48" stroke-width="1.2"/>
<rect x="819.90" y="159.9" width="5.5" height="24.50" fill="#ee1a48"/>
<line x1="829.57" y1="163.0" x2="829.57" y2="191.6" stroke="#26d68c" stroke-width="1.2"/>
<rect x="826.82" y="181.1" width="5.5" height="2.90" fill="#26d68c"/>
<line x1="836.49" y1="180.8" x2="836.49" y2="214.8" stroke="#ee1a48" stroke-width="1.2"/>
<rect x="833.74" y="181.7" width="5.5" height="17.20" fill="#ee1a48"/>
<line x1="843.40" y1="172.6" x2="843.40" y2="199.8" stroke="#26d68c" stroke-width="1.2"/>
<rect x="840.65" y="178.0" width="5.5" height="20.90" fill="#26d68c"/>
<line x1="850.32" y1="169.0" x2="850.32" y2="182.9" stroke="#ee1a48" stroke-width="1.2"/>
<rect x="847.57" y="177.5" width="5.5" height="4.70" fill="#ee1a48"/>
<line x1="857.24" y1="170.2" x2="857.24" y2="187.1" stroke="#26d68c" stroke-width="1.2"/>
<rect x="854.49" y="171.3" width="5.5" height="10.90" fill="#26d68c"/>
<line x1="864.15" y1="164.4" x2="864.15" y2="176.2" stroke="#ee1a48" stroke-width="1.2"/>
<rect x="861.40" y="170.8" width="5.5" height="4.90" fill="#ee1a48"/>
<line x1="871.07" y1="149.0" x2="871.07" y2="175.3" stroke="#26d68c" stroke-width="1.2"/>
<rect x="868.32" y="152.1" width="5.5" height="22.30" fill="#26d68c"/>
<line x1="877.99" y1="149.6" x2="877.99" y2="172.0" stroke="#ee1a48" stroke-width="1.2"/>
<rect x="875.24" y="152.1" width="5.5" height="18.10" fill="#ee1a48"/>
<line x1="884.91" y1="159.9" x2="884.91" y2="188.0" stroke="#ee1a48" stroke-width="1.2"/>
<rect x="882.16" y="169.9" width="5.5" height="13.00" fill="#ee1a48"/>
<line x1="891.82" y1="159.9" x2="891.82" y2="191.6" stroke="#26d68c" stroke-width="1.2"/>
<rect x="889.07" y="169.0" width="5.5" height="13.60" fill="#26d68c"/>
<line x1="898.74" y1="165.3" x2="898.74" y2="180.8" stroke="#ee1a48" stroke-width="1.2"/>
<rect x="895.99" y="169.0" width="5.5" height="9.00" fill="#ee1a48"/>
<line x1="905.66" y1="147.2" x2="905.66" y2="178.0" stroke="#26d68c" stroke-width="1.2"/>
<rect x="902.91" y="148.1" width="5.5" height="29.40" fill="#26d68c"/>
<line x1="912.57" y1="137.3" x2="912.57" y2="162.6" stroke="#ee1a48" stroke-width="1.2"/>
<rect x="909.82" y="148.1" width="5.5" height="11.80" fill="#ee1a48"/>
<line x1="919.49" y1="151.8" x2="919.49" y2="177.5" stroke="#ee1a48" stroke-width="1.2"/>
<rect x="916.74" y="159.0" width="5.5" height="16.30" fill="#ee1a48"/>
<line x1="926.41" y1="168.1" x2="926.41" y2="179.3" stroke="#ee1a48" stroke-width="1.2"/>
<rect x="923.66" y="173.5" width="5.5" height="4.00" fill="#ee1a48"/>
<line x1="933.33" y1="176.2" x2="933.33" y2="194.9" stroke="#ee1a48" stroke-width="1.2"/>
<rect x="930.58" y="177.1" width="5.5" height="14.50" fill="#ee1a48"/>
<line x1="940.24" y1="169.5" x2="940.24" y2="192.0" stroke="#26d68c" stroke-width="1.2"/>
<rect x="937.49" y="173.5" width="5.5" height="18.10" fill="#26d68c"/>
<line x1="947.16" y1="169.5" x2="947.16" y2="189.8" stroke="#26d68c" stroke-width="1.2"/>
<rect x="944.41" y="171.3" width="5.5" height="3.10" fill="#26d68c"/>
<line x1="954.08" y1="153.6" x2="954.08" y2="172.0" stroke="#26d68c" stroke-width="1.2"/>
<rect x="951.33" y="154.5" width="5.5" height="16.80" fill="#26d68c"/>
<line x1="960.99" y1="135.8" x2="960.99" y2="159.2" stroke="#26d68c" stroke-width="1.2"/>
<rect x="958.24" y="136.8" width="5.5" height="17.70" fill="#26d68c"/>
<line x1="967.91" y1="135.9" x2="967.91" y2="154.0" stroke="#ee1a48" stroke-width="1.2"/>
<rect x="965.16" y="135.9" width="5.5" height="1.20" fill="#ee1a48"/>
<line x1="974.83" y1="129.5" x2="974.83" y2="143.1" stroke="#ee1a48" stroke-width="1.2"/>
<rect x="972.08" y="136.8" width="5.5" height="1.80" fill="#ee1a48"/>
<line x1="981.74" y1="135.5" x2="981.74" y2="147.7" stroke="#26d68c" stroke-width="1.2"/>
<rect x="978.99" y="136.2" width="5.5" height="2.40" fill="#26d68c"/>
<line x1="988.66" y1="135.9" x2="988.66" y2="166.3" stroke="#ee1a48" stroke-width="1.2"/>
<rect x="985.91" y="136.2" width="5.5" height="29.60" fill="#ee1a48"/>
<line x1="995.58" y1="158.5" x2="995.58" y2="174.8" stroke="#ee1a48" stroke-width="1.2"/>
<rect x="992.83" y="165.8" width="5.5" height="4.50" fill="#ee1a48"/>
<line x1="1002.50" y1="163.1" x2="1002.50" y2="174.8" stroke="#26d68c" stroke-width="1.2"/>
<rect x="999.75" y="167.6" width="5.5" height="1.80" fill="#26d68c"/>
<line x1="1009.41" y1="159.8" x2="1009.41" y2="177.2" stroke="#ee1a48" stroke-width="1.2"/>
<rect x="1006.66" y="167.6" width="5.5" height="9.10" fill="#ee1a48"/>
<line x1="1016.33" y1="175.4" x2="1016.33" y2="193.0" stroke="#ee1a48" stroke-width="1.2"/>
<rect x="1013.58" y="176.1" width="5.5" height="9.60" fill="#ee1a48"/>
<line x1="1023.25" y1="185.2" x2="1023.25" y2="208.0" stroke="#ee1a48" stroke-width="1.2"/>
<rect x="1020.50" y="185.7" width="5.5" height="19.10" fill="#ee1a48"/>
<line x1="1030.16" y1="203.3" x2="1030.16" y2="212.9" stroke="#ee1a48" stroke-width="1.2"/>
<rect x="1027.41" y="204.4" width="5.5" height="4.30" fill="#ee1a48"/>
<line x1="1037.08" y1="203.8" x2="1037.08" y2="218.3" stroke="#26d68c" stroke-width="1.2"/>
<rect x="1034.33" y="204.8" width="5.5" height="3.90" fill="#26d68c"/>
<line x1="1044.00" y1="194.8" x2="1044.00" y2="206.9" stroke="#26d68c" stroke-width="1.2"/>
<rect x="1041.25" y="195.7" width="5.5" height="9.40" fill="#26d68c"/>
<line x1="1050.91" y1="195.3" x2="1050.91" y2="209.3" stroke="#ee1a48" stroke-width="1.2"/>
<rect x="1048.16" y="195.7" width="5.5" height="10.90" fill="#ee1a48"/>
<line x1="1057.83" y1="194.8" x2="1057.83" y2="206.9" stroke="#26d68c" stroke-width="1.2"/>
<rect x="1055.08" y="197.5" width="5.5" height="9.10" fill="#26d68c"/>
<line x1="1064.75" y1="186.6" x2="1064.75" y2="198.4" stroke="#26d68c" stroke-width="1.2"/>
<rect x="1062.00" y="193.5" width="5.5" height="4.40" fill="#26d68c"/>
<line x1="1071.66" y1="179.4" x2="1071.66" y2="194.2" stroke="#26d68c" stroke-width="1.2"/>
<rect x="1068.91" y="181.2" width="5.5" height="12.70" fill="#26d68c"/>
<line x1="1078.58" y1="177.6" x2="1078.58" y2="193.0" stroke="#ee1a48" stroke-width="1.2"/>
<rect x="1075.83" y="181.6" width="5.5" height="10.80" fill="#ee1a48"/>
<line x1="1085.50" y1="182.1" x2="1085.50" y2="193.0" stroke="#26d68c" stroke-width="1.2"/>
<rect x="1082.75" y="182.6" width="5.5" height="9.80" fill="#26d68c"/>
<line x1="1092.42" y1="182.6" x2="1092.42" y2="209.2" stroke="#ee1a48" stroke-width="1.2"/>
<rect x="1089.67" y="183.0" width="5.5" height="20.20" fill="#ee1a48"/>
<line x1="1099.33" y1="201.0" x2="1099.33" y2="236.5" stroke="#ee1a48" stroke-width="1.2"/>
<rect x="1096.58" y="203.0" width="5.5" height="21.50" fill="#ee1a48"/>
<line x1="1106.25" y1="224.4" x2="1106.25" y2="256.7" stroke="#ee1a48" stroke-width="1.2"/>
<rect x="1103.50" y="225.0" width="5.5" height="7.70" fill="#ee1a48"/>
<line x1="1113.17" y1="216.2" x2="1113.17" y2="238.1" stroke="#26d68c" stroke-width="1.2"/>
<rect x="1110.42" y="219.5" width="5.5" height="13.20" fill="#26d68c"/>
<line x1="1120.08" y1="211.3" x2="1120.08" y2="222.3" stroke="#26d68c" stroke-width="1.2"/>
<rect x="1117.33" y="218.2" width="5.5" height="1.50" fill="#26d68c"/>
<line x1="1127.00" y1="214.8" x2="1127.00" y2="227.7" stroke="#ee1a48" stroke-width="1.2"/>
<rect x="1124.25" y="217.9" width="5.5" height="4.90" fill="#ee1a48"/>
<line x1="1133.92" y1="220.1" x2="1133.92" y2="237.6" stroke="#26d68c" stroke-width="1.2"/>
<rect x="1131.17" y="221.9" width="5.5" height="1.50" fill="#26d68c"/>
<line x1="1140.84" y1="221.2" x2="1140.84" y2="240.1" stroke="#ee1a48" stroke-width="1.2"/>
<rect x="1138.09" y="221.7" width="5.5" height="18.10" fill="#ee1a48"/>
<line x1="1147.75" y1="236.2" x2="1147.75" y2="247.8" stroke="#ee1a48" stroke-width="1.2"/>
<rect x="1145.00" y="239.9" width="5.5" height="7.30" fill="#ee1a48"/>
<line x1="1154.67" y1="238.0" x2="1154.67" y2="253.4" stroke="#26d68c" stroke-width="1.2"/>
<rect x="1151.92" y="245.7" width="5.5" height="1.50" fill="#26d68c"/>
<line x1="1161.59" y1="232.8" x2="1161.59" y2="245.8" stroke="#26d68c" stroke-width="1.2"/>
<rect x="1158.84" y="233.4" width="5.5" height="12.00" fill="#26d68c"/>
<line x1="1168.50" y1="224.5" x2="1168.50" y2="242.4" stroke="#26d68c" stroke-width="1.2"/>
<rect x="1165.75" y="226.1" width="5.5" height="7.30" fill="#26d68c"/>
<line x1="1175.42" y1="223.0" x2="1175.42" y2="226.5" stroke="#26d68c" stroke-width="1.2"/>
<rect x="1172.67" y="223.4" width="5.5" height="2.70" fill="#26d68c"/>
<rect x="65.90" y="443.20" width="5.6" height="7.80" fill="#26cbaa"/>
<rect x="72.82" y="448.40" width="5.6" height="2.60" fill="#26cbaa"/>
<rect x="79.73" y="444.40" width="5.6" height="6.60" fill="#26cbaa"/>
<rect x="86.65" y="432.60" width="5.6" height="18.40" fill="#26cbaa"/>
<rect x="93.57" y="429.80" width="5.6" height="21.20" fill="#26cbaa"/>
<rect x="100.48" y="423.20" width="5.6" height="27.80" fill="#26cbaa"/>
<rect x="107.40" y="422.00" width="5.6" height="29.00" fill="#26cbaa"/>
<rect x="114.32" y="419.70" width="5.6" height="31.30" fill="#26cbaa"/>
<rect x="121.24" y="428.60" width="5.6" height="22.40" fill="#26cbaa"/>
<rect x="128.15" y="442.00" width="5.6" height="9.00" fill="#26cbaa"/>
<rect x="135.07" y="451.00" width="5.6" height="11.50" fill="#ee5b29"/>
<rect x="141.99" y="451.00" width="5.6" height="21.70" fill="#ee5b29"/>
<rect x="148.90" y="451.00" width="5.6" height="26.40" fill="#ee5b29"/>
<rect x="155.82" y="451.00" width="5.6" height="27.00" fill="#ee5b29"/>
<rect x="162.74" y="451.00" width="5.6" height="25.70" fill="#ee5b29"/>
<rect x="169.65" y="451.00" width="5.6" height="17.00" fill="#ee5b29"/>
<rect x="176.57" y="451.00" width="5.6" height="11.50" fill="#ee5b29"/>
<rect x="183.49" y="448.40" width="5.6" height="2.60" fill="#26cbaa"/>
<rect x="190.41" y="446.30" width="5.6" height="4.70" fill="#26cbaa"/>
<rect x="197.32" y="443.20" width="5.6" height="7.80" fill="#26cbaa"/>
<rect x="204.24" y="439.70" width="5.6" height="11.30" fill="#26cbaa"/>
<rect x="211.16" y="438.00" width="5.6" height="13.00" fill="#26cbaa"/>
<rect x="218.07" y="438.50" width="5.6" height="12.50" fill="#26cbaa"/>
<rect x="224.99" y="441.30" width="5.6" height="9.70" fill="#26cbaa"/>
<rect x="231.91" y="448.00" width="5.6" height="3.00" fill="#26cbaa"/>
<rect x="238.82" y="451.00" width="5.6" height="6.80" fill="#ee5b29"/>
<rect x="245.74" y="451.00" width="5.6" height="8.70" fill="#ee5b29"/>
<rect x="252.66" y="451.00" width="5.6" height="5.90" fill="#ee5b29"/>
<rect x="259.58" y="451.00" width="5.6" height="6.40" fill="#ee5b29"/>
<rect x="266.49" y="451.00" width="5.6" height="8.70" fill="#ee5b29"/>
<rect x="273.41" y="451.00" width="5.6" height="10.60" fill="#ee5b29"/>
<rect x="280.33" y="451.00" width="5.6" height="9.90" fill="#ee5b29"/>
<rect x="287.24" y="451.00" width="5.6" height="9.90" fill="#ee5b29"/>
<rect x="294.16" y="451.00" width="5.6" height="8.70" fill="#ee5b29"/>
<rect x="301.08" y="451.00" width="5.6" height="8.20" fill="#ee5b29"/>
<rect x="308.00" y="451.00" width="5.6" height="2.10" fill="#ee5b29"/>
<rect x="314.91" y="446.30" width="5.6" height="4.70" fill="#26cbaa"/>
<rect x="321.83" y="438.50" width="5.6" height="12.50" fill="#26cbaa"/>
<rect x="328.75" y="434.30" width="5.6" height="16.70" fill="#26cbaa"/>
<rect x="335.66" y="432.60" width="5.6" height="18.40" fill="#26cbaa"/>
<rect x="342.58" y="432.60" width="5.6" height="18.40" fill="#26cbaa"/>
<rect x="349.50" y="431.00" width="5.6" height="20.00" fill="#26cbaa"/>
<rect x="356.41" y="429.10" width="5.6" height="21.90" fill="#26cbaa"/>
<rect x="363.33" y="429.80" width="5.6" height="21.20" fill="#26cbaa"/>
<rect x="370.25" y="434.30" width="5.6" height="16.70" fill="#26cbaa"/>
<rect x="377.16" y="435.70" width="5.6" height="15.30" fill="#26cbaa"/>
<rect x="384.08" y="438.00" width="5.6" height="13.00" fill="#26cbaa"/>
<rect x="391.00" y="443.70" width="5.6" height="7.30" fill="#26cbaa"/>
<rect x="397.92" y="446.80" width="5.6" height="4.20" fill="#26cbaa"/>
<rect x="404.83" y="445.10" width="5.6" height="5.90" fill="#26cbaa"/>
<rect x="411.75" y="442.80" width="5.6" height="8.20" fill="#26cbaa"/>
<rect x="418.67" y="443.90" width="5.6" height="7.10" fill="#26cbaa"/>
<rect x="425.58" y="447.90" width="5.6" height="3.10" fill="#26cbaa"/>
<rect x="432.50" y="451.00" width="5.6" height="1.00" fill="#ee5b29"/>
<rect x="439.42" y="451.00" width="5.6" height="2.10" fill="#ee5b29"/>
<rect x="446.33" y="451.00" width="5.6" height="5.90" fill="#ee5b29"/>
<rect x="453.25" y="451.00" width="5.6" height="9.90" fill="#ee5b29"/>
<rect x="460.17" y="451.00" width="5.6" height="14.60" fill="#ee5b29"/>
<rect x="467.09" y="451.00" width="5.6" height="15.30" fill="#ee5b29"/>
<rect x="474.00" y="451.00" width="5.6" height="15.30" fill="#ee5b29"/>
<rect x="480.92" y="451.00" width="5.6" height="13.40" fill="#ee5b29"/>
<rect x="487.84" y="451.00" width="5.6" height="11.00" fill="#ee5b29"/>
<rect x="494.75" y="451.00" width="5.6" height="9.20" fill="#ee5b29"/>
<rect x="501.67" y="451.00" width="5.6" height="8.70" fill="#ee5b29"/>
<rect x="508.59" y="451.00" width="5.6" height="6.80" fill="#ee5b29"/>
<rect x="515.50" y="451.00" width="5.6" height="4.50" fill="#ee5b29"/>
<rect x="522.42" y="451.00" width="5.6" height="2.10" fill="#ee5b29"/>
<rect x="529.34" y="447.50" width="5.6" height="3.50" fill="#26cbaa"/>
<rect x="536.26" y="445.60" width="5.6" height="5.40" fill="#26cbaa"/>
<rect x="543.17" y="443.70" width="5.6" height="7.30" fill="#26cbaa"/>
<rect x="550.09" y="443.70" width="5.6" height="7.30" fill="#26cbaa"/>
<rect x="557.01" y="445.60" width="5.6" height="5.40" fill="#26cbaa"/>
<rect x="563.92" y="443.70" width="5.6" height="7.30" fill="#26cbaa"/>
<rect x="570.84" y="440.90" width="5.6" height="10.10" fill="#26cbaa"/>
<rect x="577.76" y="440.20" width="5.6" height="10.80" fill="#26cbaa"/>
<rect x="584.68" y="442.10" width="5.6" height="8.90" fill="#26cbaa"/>
<rect x="591.59" y="442.50" width="5.6" height="8.50" fill="#26cbaa"/>
<rect x="598.51" y="443.70" width="5.6" height="7.30" fill="#26cbaa"/>
<rect x="605.43" y="445.10" width="5.6" height="5.90" fill="#26cbaa"/>
<rect x="612.34" y="446.30" width="5.6" height="4.70" fill="#26cbaa"/>
<rect x="619.26" y="447.50" width="5.6" height="3.50" fill="#26cbaa"/>
<rect x="626.18" y="442.10" width="5.6" height="8.90" fill="#26cbaa"/>
<rect x="633.09" y="440.90" width="5.6" height="10.10" fill="#26cbaa"/>
<rect x="640.01" y="437.30" width="5.6" height="13.70" fill="#26cbaa"/>
<rect x="646.93" y="434.50" width="5.6" height="16.50" fill="#26cbaa"/>
<rect x="653.85" y="437.30" width="5.6" height="13.70" fill="#26cbaa"/>
<rect x="660.76" y="436.90" width="5.6" height="14.10" fill="#26cbaa"/>
<rect x="667.68" y="436.90" width="5.6" height="14.10" fill="#26cbaa"/>
<rect x="674.60" y="439.00" width="5.6" height="12.00" fill="#26cbaa"/>
<rect x="681.51" y="445.10" width="5.6" height="5.90" fill="#26cbaa"/>
<rect x="688.43" y="451.00" width="5.6" height="0.70" fill="#ee5b29"/>
<rect x="695.35" y="451.00" width="5.6" height="2.80" fill="#ee5b29"/>
<rect x="702.26" y="451.00" width="5.6" height="4.50" fill="#ee5b29"/>
<rect x="709.18" y="451.00" width="5.6" height="5.90" fill="#ee5b29"/>
<rect x="716.10" y="451.00" width="5.6" height="8.70" fill="#ee5b29"/>
<rect x="723.02" y="451.00" width="5.6" height="9.40" fill="#ee5b29"/>
<rect x="729.93" y="451.00" width="5.6" height="9.90" fill="#ee5b29"/>
<rect x="736.85" y="451.00" width="5.6" height="8.70" fill="#ee5b29"/>
<rect x="743.77" y="451.00" width="5.6" height="11.80" fill="#ee5b29"/>
<rect x="750.68" y="451.00" width="5.6" height="12.70" fill="#ee5b29"/>
<rect x="757.60" y="451.00" width="5.6" height="11.50" fill="#ee5b29"/>
<rect x="764.52" y="451.00" width="5.6" height="15.80" fill="#ee5b29"/>
<rect x="771.43" y="451.00" width="5.6" height="13.90" fill="#ee5b29"/>
<rect x="778.35" y="451.00" width="5.6" height="17.70" fill="#ee5b29"/>
<rect x="785.27" y="451.00" width="5.6" height="16.30" fill="#ee5b29"/>
<rect x="792.19" y="451.00" width="5.6" height="13.90" fill="#ee5b29"/>
<rect x="799.10" y="451.00" width="5.6" height="5.90" fill="#ee5b29"/>
<rect x="806.02" y="451.00" width="5.6" height="0.70" fill="#ee5b29"/>
<rect x="812.94" y="443.70" width="5.6" height="7.30" fill="#26cbaa"/>
<rect x="819.85" y="444.90" width="5.6" height="6.10" fill="#26cbaa"/>
<rect x="826.77" y="445.60" width="5.6" height="5.40" fill="#26cbaa"/>
<rect x="833.69" y="449.80" width="5.6" height="1.20" fill="#26cbaa"/>
<rect x="840.60" y="448.40" width="5.6" height="2.60" fill="#26cbaa"/>
<rect x="847.52" y="449.10" width="5.6" height="1.90" fill="#26cbaa"/>
<rect x="854.44" y="447.20" width="5.6" height="3.80" fill="#26cbaa"/>
<rect x="861.36" y="447.20" width="5.6" height="3.80" fill="#26cbaa"/>
<rect x="868.27" y="443.20" width="5.6" height="7.80" fill="#26cbaa"/>
<rect x="875.19" y="444.90" width="5.6" height="6.10" fill="#26cbaa"/>
<rect x="882.11" y="449.10" width="5.6" height="1.90" fill="#26cbaa"/>
<rect x="889.02" y="449.40" width="5.6" height="1.60" fill="#26cbaa"/>
<rect x="895.94" y="451.00" width="5.6" height="1.00" fill="#ee5b29"/>
<rect x="902.86" y="447.20" width="5.6" height="3.80" fill="#26cbaa"/>
<rect x="909.77" y="447.20" width="5.6" height="3.80" fill="#26cbaa"/>
<rect x="916.69" y="450.10" width="5.6" height="0.90" fill="#26cbaa"/>
<rect x="923.61" y="451.00" width="5.6" height="3.50" fill="#ee5b29"/>
<rect x="930.53" y="451.00" width="5.6" height="8.70" fill="#ee5b29"/>
<rect x="937.44" y="451.00" width="5.6" height="7.50" fill="#ee5b29"/>
<rect x="944.36" y="451.00" width="5.6" height="6.40" fill="#ee5b29"/>
<rect x="951.28" y="451.00" width="5.6" height="2.70" fill="#ee5b29"/>
<rect x="958.19" y="446.90" width="5.6" height="4.10" fill="#26cbaa"/>
<rect x="965.11" y="443.50" width="5.6" height="7.50" fill="#26cbaa"/>
<rect x="972.03" y="442.80" width="5.6" height="8.20" fill="#26cbaa"/>
<rect x="978.94" y="442.10" width="5.6" height="8.90" fill="#26cbaa"/>
<rect x="985.86" y="448.60" width="5.6" height="2.40" fill="#26cbaa"/>
<rect x="992.78" y="451.00" width="5.6" height="4.20" fill="#ee5b29"/>
<rect x="999.70" y="451.00" width="5.6" height="7.10" fill="#ee5b29"/>
<rect x="1006.61" y="451.00" width="5.6" height="10.60" fill="#ee5b29"/>
<rect x="1013.53" y="451.00" width="5.6" height="14.60" fill="#ee5b29"/>
<rect x="1020.45" y="451.00" width="5.6" height="20.00" fill="#ee5b29"/>
<rect x="1027.36" y="451.00" width="5.6" height="23.60" fill="#ee5b29"/>
<rect x="1034.28" y="451.00" width="5.6" height="24.00" fill="#ee5b29"/>
<rect x="1041.20" y="451.00" width="5.6" height="21.70" fill="#ee5b29"/>
<rect x="1048.11" y="451.00" width="5.6" height="21.20" fill="#ee5b29"/>
<rect x="1055.03" y="451.00" width="5.6" height="17.70" fill="#ee5b29"/>
<rect x="1061.95" y="451.00" width="5.6" height="13.70" fill="#ee5b29"/>
<rect x="1068.87" y="451.00" width="5.6" height="9.00" fill="#ee5b29"/>
<rect x="1075.78" y="451.00" width="5.6" height="6.60" fill="#ee5b29"/>
<rect x="1082.70" y="451.00" width="5.6" height="2.80" fill="#ee5b29"/>
<rect x="1089.62" y="451.00" width="5.6" height="5.20" fill="#ee5b29"/>
<rect x="1096.53" y="451.00" width="5.6" height="9.90" fill="#ee5b29"/>
<rect x="1103.45" y="451.00" width="5.6" height="14.10" fill="#ee5b29"/>
<rect x="1110.37" y="451.00" width="5.6" height="13.00" fill="#ee5b29"/>
<rect x="1117.28" y="451.00" width="5.6" height="11.80" fill="#ee5b29"/>
<rect x="1124.20" y="451.00" width="5.6" height="10.60" fill="#ee5b29"/>
<rect x="1131.12" y="451.00" width="5.6" height="9.00" fill="#ee5b29"/>
<rect x="1138.04" y="451.00" width="5.6" height="11.30" fill="#ee5b29"/>
<rect x="1144.95" y="451.00" width="5.6" height="13.00" fill="#ee5b29"/>
<rect x="1151.87" y="451.00" width="5.6" height="12.20" fill="#ee5b29"/>
<rect x="1158.79" y="451.00" width="5.6" height="9.40" fill="#ee5b29"/>
<rect x="1165.70" y="451.00" width="5.6" height="5.20" fill="#ee5b29"/>
<rect x="1172.62" y="450.00" width="5.6" height="1.00" fill="#26cbaa"/>
<path d="M64.71,464.31C65.26,464.37 68.16,464.32 69.42,464.79C70.68,465.25 74.01,468.54 75.54,468.32C77.08,468.10 80.99,464.96 82.61,462.90C84.23,460.84 87.96,453.87 89.44,450.65C90.92,447.44 93.82,438.51 95.33,435.35C96.84,432.19 101.02,425.77 102.39,423.57C103.77,421.37 105.87,418.15 107.10,416.50C108.34,414.86 111.62,410.46 112.99,409.44C114.36,408.42 117.30,407.24 118.88,407.79C120.46,408.34 124.82,411.14 126.53,414.15C128.25,417.16 131.88,428.77 133.60,433.58C135.32,438.39 139.67,451.59 141.25,455.37C142.83,459.14 145.63,463.77 147.14,465.96C148.65,468.16 152.70,472.64 154.21,474.21C155.72,475.77 158.78,478.48 160.09,479.39C161.41,480.29 164.05,482.03 165.51,481.98C166.97,481.92 170.96,479.69 172.58,478.92C174.20,478.15 178.12,476.90 179.41,475.38C180.70,473.87 182.60,467.61 183.65,465.96C184.69,464.31 186.98,462.21 188.36,461.25C189.73,460.29 193.91,458.46 195.42,457.72C196.93,456.98 199.94,455.72 201.31,454.89C202.68,454.07 205.71,451.70 207.20,450.65C208.68,449.61 212.41,446.99 214.03,445.94C215.65,444.90 219.47,442.20 221.09,441.71C222.71,441.21 226.52,441.21 227.92,441.71C229.32,442.20 231.81,444.35 233.10,445.94C234.40,447.54 237.76,453.85 238.99,455.37C240.23,456.88 242.60,458.21 243.70,458.90C244.80,459.58 247.04,461.17 248.41,461.25C249.79,461.34 253.83,459.69 255.48,459.60C257.13,459.52 260.89,459.80 262.54,460.55C264.19,461.29 267.96,464.78 269.61,465.96C271.26,467.14 274.95,469.85 276.67,470.67C278.40,471.50 282.57,472.56 284.37,473.03C286.17,473.50 290.48,474.40 292.07,474.68C293.65,474.95 296.58,475.08 297.95,475.38C299.33,475.69 302.41,477.74 303.84,477.27C305.27,476.80 308.66,473.25 310.20,471.38C311.74,469.51 315.41,463.89 317.03,461.25C318.65,458.62 322.47,451.38 324.10,448.77C325.72,446.16 329.30,440.72 330.93,438.88C332.55,437.04 336.37,434.23 337.99,432.99C339.61,431.75 343.23,429.24 344.82,428.28C346.41,427.32 350.03,425.65 351.65,424.75C353.27,423.84 357.10,421.55 358.72,420.51C360.34,419.46 363.93,416.40 365.55,415.80C367.17,415.19 370.99,415.60 372.61,415.33C374.23,415.05 377.85,413.77 379.44,413.44C381.04,413.11 384.65,412.14 386.27,412.50C387.89,412.86 391.72,415.82 393.34,416.50C394.96,417.19 398.57,418.53 400.17,418.39C401.76,418.25 405.38,416.23 407.00,415.33C408.62,414.42 412.44,411.22 414.06,410.62C415.68,410.01 419.27,409.87 420.89,410.15C422.51,410.42 426.34,412.31 427.96,412.97C429.58,413.63 433.19,415.11 434.79,415.80C436.38,416.49 440.00,418.04 441.62,418.86C443.24,419.68 447.06,421.49 448.68,422.86C450.30,424.24 453.92,428.90 455.51,430.64C457.11,432.37 460.72,436.38 462.34,437.70C463.96,439.02 467.79,440.98 469.41,441.94C471.03,442.90 474.65,445.26 476.24,445.94C477.83,446.63 481.45,447.55 483.07,447.83C484.69,448.10 488.51,448.24 490.13,448.30C491.76,448.35 495.29,448.09 496.96,448.30C498.64,448.51 502.89,449.98 504.51,450.07C506.14,450.15 509.32,449.27 510.89,449.01C512.46,448.75 516.33,448.19 517.95,447.83C519.57,447.47 523.19,446.99 524.78,445.94C526.38,444.90 529.99,440.03 531.61,438.88C533.23,437.72 537.06,436.82 538.68,436.05C540.30,435.28 543.92,432.83 545.51,432.28C547.10,431.73 550.72,431.40 552.34,431.34C553.96,431.29 557.78,432.09 559.40,431.81C561.03,431.54 564.61,429.95 566.23,428.99C567.86,428.03 571.68,424.61 573.30,423.57C574.92,422.53 578.54,420.45 580.13,420.04C581.72,419.63 585.34,420.31 586.96,420.04C588.58,419.76 592.40,417.96 594.02,417.68C595.65,417.41 599.26,417.68 600.85,417.68C602.45,417.68 606.06,417.63 607.68,417.68C609.31,417.74 613.13,418.15 614.75,418.15C616.37,418.15 619.96,418.42 621.58,417.68C623.20,416.94 627.02,412.95 628.65,411.79C630.27,410.64 633.88,409.03 635.48,407.79C637.07,406.55 640.68,402.85 642.31,401.20C643.93,399.55 647.75,394.54 649.37,393.66C650.99,392.78 654.58,394.15 656.20,393.66C657.82,393.17 661.65,390.33 663.27,389.42C664.89,388.51 668.50,386.38 670.10,385.89C671.69,385.39 675.31,384.63 676.93,385.18C678.55,385.73 682.37,389.33 683.99,390.60C685.61,391.86 689.23,395.05 690.82,396.02C692.42,396.98 696.03,398.24 697.65,398.84C699.27,399.45 703.10,400.65 704.72,401.20C706.34,401.75 709.95,402.67 711.55,403.55C713.14,404.43 716.76,407.77 718.38,408.73C720.00,409.69 724.09,411.38 725.44,411.79C726.80,412.21 728.40,411.91 730.00,412.27C731.60,412.62 737.32,413.89 739.19,414.86C741.05,415.82 744.42,419.35 746.02,420.51C747.61,421.66 751.22,423.98 752.85,424.75C754.47,425.52 758.29,426.00 759.91,427.10C761.53,428.20 765.15,433.07 766.74,434.17C768.33,435.27 771.95,435.56 773.57,436.52C775.19,437.49 779.01,441.31 780.64,442.41C782.26,443.51 785.84,445.48 787.47,445.94C789.09,446.41 792.91,447.02 794.53,446.42C796.15,445.81 799.77,442.05 801.36,440.76C802.95,439.47 806.57,436.94 808.19,435.35C809.81,433.75 813.64,428.17 815.26,427.10C816.88,426.03 820.49,426.30 822.09,426.16C823.68,426.02 827.30,425.60 828.92,425.93C830.54,426.26 834.36,428.79 835.98,428.99C837.60,429.18 841.22,427.79 842.81,427.57C844.41,427.35 848.02,427.43 849.64,427.10C851.26,426.77 855.09,425.08 856.71,424.75C858.33,424.42 861.92,425.10 863.54,424.28C865.16,423.45 868.98,418.40 870.60,417.68C872.22,416.97 875.84,417.66 877.43,418.15C879.03,418.65 882.64,421.48 884.26,421.92C885.88,422.36 889.71,421.73 891.33,421.92C892.95,422.11 896.56,424.01 898.16,423.57C899.75,423.13 903.37,418.90 904.99,418.15C906.61,417.41 910.43,416.99 912.05,417.21C913.67,417.43 917.26,419.02 918.88,420.04C920.50,421.05 924.33,424.55 925.95,425.93C927.57,427.30 931.19,430.99 932.78,431.81C934.37,432.64 937.79,432.95 939.61,432.99C941.42,433.03 946.58,432.99 948.34,432.17C950.10,431.34 953.31,427.20 954.71,425.93C956.11,424.65 958.91,422.31 960.36,421.22C961.82,420.12 965.60,417.41 967.19,416.50C968.79,415.60 972.40,414.13 974.02,413.44C975.64,412.76 979.47,410.12 981.09,410.62C982.71,411.11 986.32,416.03 987.92,417.68C989.51,419.33 993.13,423.24 994.75,424.75C996.37,426.26 1000.19,429.12 1001.81,430.64C1003.43,432.15 1007.05,435.78 1008.64,437.70C1010.24,439.62 1013.85,444.92 1015.47,447.12C1017.09,449.32 1020.92,454.62 1022.54,456.54C1024.16,458.47 1027.75,462.23 1029.37,463.61C1030.99,464.98 1034.81,467.49 1036.43,468.32C1038.06,469.14 1041.67,470.04 1043.26,470.67C1044.86,471.31 1048.47,473.32 1050.09,473.74C1051.72,474.15 1055.54,474.21 1057.16,474.21C1058.78,474.21 1062.37,474.20 1063.99,473.74C1065.61,473.27 1069.43,470.64 1071.06,470.20C1072.68,469.76 1076.29,470.38 1077.89,469.97C1079.48,469.55 1083.09,466.78 1084.72,466.67C1086.34,466.56 1090.16,467.93 1091.78,469.02C1093.40,470.12 1097.02,474.39 1098.61,476.09C1100.20,477.79 1103.82,482.47 1105.44,483.63C1107.06,484.78 1110.88,485.62 1112.51,485.98C1114.13,486.34 1117.74,486.47 1119.34,486.69C1120.93,486.91 1124.54,487.54 1126.17,487.87C1127.79,488.20 1131.61,488.77 1133.23,489.51C1134.85,490.26 1138.47,493.18 1140.06,494.23C1141.65,495.27 1145.27,497.64 1146.89,498.46C1148.51,499.29 1152.34,501.10 1153.96,501.29C1155.58,501.48 1159.19,500.66 1160.79,500.11C1162.38,499.56 1166.00,497.46 1167.62,496.58C1169.24,495.70 1173.86,493.04 1174.68,492.58" stroke="#5a87e2" stroke-width="1.5" fill="none" stroke-linejoin="round" stroke-linecap="round"/>
<path d="M64.71,471.85C65.53,471.71 69.69,471.00 71.78,470.67C73.86,470.34 80.55,469.66 82.61,469.02C84.67,468.39 87.85,466.30 89.44,465.26C91.03,464.21 94.65,461.50 96.27,460.08C97.89,458.65 101.71,454.80 103.33,453.01C104.96,451.22 108.54,446.69 110.16,444.77C111.79,442.84 115.61,438.09 117.23,436.52C118.85,434.96 122.47,432.11 124.06,431.34C125.65,430.57 129.57,430.01 130.89,429.93C132.21,429.85 134.16,430.00 135.37,430.64C136.57,431.27 139.88,434.05 141.25,435.35C142.63,436.64 145.63,440.06 147.14,441.71C148.65,443.35 152.56,447.88 154.21,449.48C155.85,451.07 159.62,454.13 161.27,455.37C162.92,456.60 166.69,459.20 168.34,460.08C169.99,460.95 173.89,462.49 175.40,462.90C176.91,463.31 179.78,463.66 181.29,463.61C182.80,463.55 186.71,462.79 188.36,462.43C190.00,462.07 193.91,460.96 195.42,460.55C196.93,460.13 199.94,459.36 201.31,458.90C202.68,458.43 205.71,457.17 207.20,456.54C208.68,455.91 212.41,454.17 214.03,453.48C215.65,452.79 219.47,451.12 221.09,450.65C222.71,450.19 226.33,449.59 227.92,449.48C229.52,449.37 233.13,449.44 234.75,449.71C236.37,449.99 240.22,451.31 241.82,451.83C243.41,452.35 246.82,453.78 248.41,454.19C250.01,454.60 253.83,455.09 255.48,455.37C257.13,455.64 260.89,456.21 262.54,456.54C264.19,456.87 267.96,457.72 269.61,458.19C271.26,458.66 274.95,459.91 276.67,460.55C278.40,461.18 282.57,462.89 284.37,463.61C286.17,464.32 290.48,466.04 292.07,466.67C293.65,467.30 296.58,468.64 297.95,469.02C299.33,469.41 302.41,469.86 303.84,469.97C305.27,470.08 308.66,470.08 310.20,469.97C311.74,469.86 315.41,469.57 317.03,469.02C318.65,468.48 322.47,466.30 324.10,465.26C325.72,464.21 329.30,461.37 330.93,460.08C332.55,458.78 336.37,455.56 337.99,454.19C339.61,452.81 343.23,449.67 344.82,448.30C346.41,446.93 350.03,443.79 351.65,442.41C353.27,441.04 357.10,437.76 358.72,436.52C360.34,435.29 363.93,432.91 365.55,431.81C367.17,430.71 370.99,427.93 372.61,427.10C374.23,426.28 377.85,425.16 379.44,424.75C381.04,424.34 384.65,423.79 386.27,423.57C387.89,423.35 391.72,423.06 393.34,422.86C394.96,422.67 398.57,422.20 400.17,421.92C401.76,421.65 405.38,420.95 407.00,420.51C408.62,420.07 412.44,418.62 414.06,418.15C415.68,417.69 419.27,416.78 420.89,416.50C422.51,416.23 426.34,415.88 427.96,415.80C429.58,415.72 433.19,415.72 434.79,415.80C436.38,415.88 440.00,416.29 441.62,416.50C443.24,416.72 447.06,417.27 448.68,417.68C450.30,418.09 453.92,419.35 455.51,420.04C457.11,420.72 460.72,422.66 462.34,423.57C463.96,424.48 467.79,426.79 469.41,427.81C471.03,428.83 474.65,431.32 476.24,432.28C477.83,433.25 481.45,435.28 483.07,436.05C484.69,436.82 488.51,438.27 490.13,438.88C491.76,439.48 495.29,440.89 496.96,441.23C498.64,441.58 502.89,441.69 504.51,441.82C506.14,441.96 509.32,442.15 510.89,442.41C512.46,442.67 516.33,443.84 517.95,444.06C519.57,444.28 523.19,444.35 524.78,444.30C526.38,444.24 529.99,443.89 531.61,443.59C533.23,443.29 537.06,442.17 538.68,441.71C540.30,441.24 543.92,440.05 545.51,439.59C547.10,439.12 550.72,438.06 552.34,437.70C553.96,437.34 557.78,436.88 559.40,436.52C561.03,436.17 564.61,435.13 566.23,434.64C567.86,434.15 571.68,432.83 573.30,432.28C574.92,431.73 578.54,430.45 580.13,429.93C581.72,429.41 585.34,428.28 586.96,427.81C588.58,427.34 592.40,426.34 594.02,425.93C595.65,425.51 599.26,424.63 600.85,424.28C602.45,423.92 606.06,423.14 607.68,422.86C609.31,422.59 613.13,422.11 614.75,421.92C616.37,421.73 619.96,421.49 621.58,421.22C623.20,420.94 627.02,420.03 628.65,419.57C630.27,419.10 633.88,417.90 635.48,417.21C637.07,416.52 640.68,414.59 642.31,413.68C643.93,412.77 647.75,410.35 649.37,409.44C650.99,408.53 654.58,406.73 656.20,405.91C657.82,405.08 661.65,403.20 663.27,402.37C664.89,401.55 668.50,399.53 670.10,398.84C671.69,398.15 675.31,396.90 676.93,396.49C678.55,396.07 682.37,395.45 683.99,395.31C685.61,395.17 689.23,395.25 690.82,395.31C692.42,395.36 696.03,395.64 697.65,395.78C699.27,395.92 703.10,396.27 704.72,396.49C706.34,396.71 709.95,397.25 711.55,397.66C713.14,398.08 716.76,399.47 718.38,400.02C720.00,400.57 724.09,401.96 725.44,402.37C726.80,402.79 728.40,403.00 730.00,403.55C731.60,404.10 737.32,406.26 739.19,407.08C741.05,407.91 744.42,409.79 746.02,410.62C747.61,411.44 751.22,413.38 752.85,414.15C754.47,414.92 758.29,416.39 759.91,417.21C761.53,418.04 765.15,420.28 766.74,421.22C768.33,422.15 771.95,424.31 773.57,425.22C775.19,426.13 779.01,428.22 780.64,428.99C782.26,429.76 785.84,431.21 787.47,431.81C789.09,432.42 792.91,433.76 794.53,434.17C796.15,434.58 799.77,435.21 801.36,435.35C802.95,435.48 806.57,435.54 808.19,435.35C809.81,435.15 813.64,434.05 815.26,433.70C816.88,433.34 820.49,432.59 822.09,432.28C823.68,431.98 827.30,431.35 828.92,431.11C830.54,430.86 834.36,430.36 835.98,430.16C837.60,429.97 841.22,429.62 842.81,429.46C844.41,429.29 848.02,428.89 849.64,428.75C851.26,428.61 855.09,428.47 856.71,428.28C858.33,428.09 861.92,427.46 863.54,427.10C865.16,426.75 868.98,425.58 870.60,425.22C872.22,424.86 875.84,424.23 877.43,424.04C879.03,423.85 882.64,423.68 884.26,423.57C885.88,423.46 889.71,423.13 891.33,423.10C892.95,423.07 896.56,423.42 898.16,423.33C899.75,423.25 903.37,422.61 904.99,422.39C906.61,422.17 910.43,421.59 912.05,421.45C913.67,421.31 917.26,421.11 918.88,421.22C920.50,421.33 924.33,422.04 925.95,422.39C927.57,422.75 931.19,423.86 932.78,424.28C934.37,424.69 937.79,425.53 939.61,425.93C941.42,426.32 946.58,427.47 948.34,427.69C950.10,427.91 953.31,428.02 954.71,427.81C956.11,427.60 958.91,426.42 960.36,425.93C961.82,425.43 965.60,424.12 967.19,423.57C968.79,423.02 972.40,421.68 974.02,421.22C975.64,420.75 979.47,419.84 981.09,419.57C982.71,419.29 986.32,418.86 987.92,418.86C989.51,418.86 993.13,419.21 994.75,419.57C996.37,419.92 1000.19,421.32 1001.81,421.92C1003.43,422.53 1007.05,423.87 1008.64,424.75C1010.24,425.63 1013.85,428.22 1015.47,429.46C1017.09,430.69 1020.92,434.03 1022.54,435.35C1024.16,436.67 1027.75,439.47 1029.37,440.76C1030.99,442.05 1034.81,445.18 1036.43,446.42C1038.06,447.65 1041.67,450.26 1043.26,451.36C1044.86,452.46 1048.47,454.87 1050.09,455.84C1051.72,456.80 1055.54,458.89 1057.16,459.60C1058.78,460.32 1062.37,461.49 1063.99,461.96C1065.61,462.43 1069.43,463.33 1071.06,463.61C1072.68,463.88 1076.29,464.12 1077.89,464.31C1079.48,464.51 1083.09,464.93 1084.72,465.26C1086.34,465.59 1090.16,466.65 1091.78,467.14C1093.40,467.64 1097.02,468.81 1098.61,469.50C1100.20,470.18 1103.82,472.26 1105.44,473.03C1107.06,473.80 1110.88,475.46 1112.51,476.09C1114.13,476.72 1117.74,477.90 1119.34,478.45C1120.93,479.00 1124.54,480.25 1126.17,480.80C1127.79,481.35 1131.61,482.55 1133.23,483.16C1134.85,483.76 1138.47,485.32 1140.06,485.98C1141.65,486.64 1145.27,488.26 1146.89,488.81C1148.51,489.36 1152.34,490.34 1153.96,490.69C1155.58,491.05 1159.19,491.65 1160.79,491.87C1162.38,492.09 1166.00,492.49 1167.62,492.58C1169.24,492.66 1173.86,492.58 1174.68,492.58" stroke="#eee063" stroke-width="1.5" fill="none" stroke-linejoin="round" stroke-linecap="round"/>
</g>
<line x1="975.5" y1="130.4" x2="984.5" y2="130.4" stroke="#fff" stroke-width="1" stroke-dasharray="3.6 1.6"/>
<text x="989.3" y="133.8" font-size="13" fill="#fff" textLength="65.0" lengthAdjust="spacingAndGlyphs" stroke="#fff" stroke-width="0.3">120062.36</text>
<rect x="79" y="130" width="148" height="29.5" rx="14.75" fill="#1c1b28"/>
<text x="94.4" y="150.5" font-size="16" fill="#fff" textLength="25.8" lengthAdjust="spacingAndGlyphs" stroke="#fff" stroke-width="0.4">MA</text>
<text x="127.4" y="150.5" font-size="14.5" fill="#fff" textLength="58.0" lengthAdjust="spacingAndGlyphs" stroke="#fff" stroke-width="0.3">(5,10,30)</text>
<path d="M204.6,140.3 L210.2,145.6 L204.6,150.9" stroke="#fff" stroke-width="1.9" fill="none" stroke-linecap="round" stroke-linejoin="round"/>
<rect x="79" y="388.2" width="149.6" height="29" rx="14.5" fill="#1c1b28"/>
<text x="94.4" y="408.2" font-size="16" fill="#fff" textLength="49.0" lengthAdjust="spacingAndGlyphs" stroke="#fff" stroke-width="0.4">MACD</text>
<text x="150.6" y="408.2" font-size="14.5" fill="#fff" textLength="54.4" lengthAdjust="spacingAndGlyphs" stroke="#fff" stroke-width="0.3">(12,26,9)</text>
<path d="M207,398.2 L212.4,403.5 L207,408.8" stroke="#fff" stroke-width="1.9" fill="none" stroke-linecap="round" stroke-linejoin="round"/>
<text x="1187.5" y="137.9" font-size="14.7" fill="#fff" textLength="79.3" lengthAdjust="spacingAndGlyphs" stroke="#fff" stroke-width="0.4">120000.00</text>
<text x="1187.5" y="191.1" font-size="14.7" fill="#fff" textLength="74.8" lengthAdjust="spacingAndGlyphs" stroke="#fff" stroke-width="0.4">119000.00</text>
<text x="1187.5" y="245.2" font-size="14.7" fill="#fff" textLength="74.3" lengthAdjust="spacingAndGlyphs" stroke="#fff" stroke-width="0.4">118000.00</text>
<text x="1187.5" y="288.4" font-size="14.7" fill="#fff" textLength="71.7" lengthAdjust="spacingAndGlyphs" stroke="#fff" stroke-width="0.4">117200.00</text>
<text x="1187.5" y="329.1" font-size="14.7" fill="#fff" textLength="71.7" lengthAdjust="spacingAndGlyphs" stroke="#fff" stroke-width="0.4">116450.00</text>
<text x="1187.5" y="372.4" font-size="14.7" fill="#fff" textLength="71.7" lengthAdjust="spacingAndGlyphs" stroke="#fff" stroke-width="0.4">115650.00</text>
<text x="1187.5" y="414.6" font-size="14.7" fill="#fff" textLength="51.3" lengthAdjust="spacingAndGlyphs" stroke="#fff" stroke-width="0.4">250.00</text>
<text x="1187.5" y="457.2" font-size="14.7" fill="#fff" textLength="34.2" lengthAdjust="spacingAndGlyphs" stroke="#fff" stroke-width="0.4">0.00</text>
<text x="1188.5" y="498.9" font-size="14.7" fill="#fff" textLength="59.2" lengthAdjust="spacingAndGlyphs" stroke="#fff" stroke-width="0.4">-250.00</text>
<rect x="1177" y="194" width="80" height="19.6" rx="2" fill="#ee1a48"/>
<rect x="1177" y="214" width="83" height="19.2" rx="2.5" fill="#1ad6f4"/>
<text x="1187.5" y="209.4" font-size="14.7" fill="#fff" textLength="62.1" lengthAdjust="spacingAndGlyphs" stroke="#fff" stroke-width="0.4">118315.43</text>
<text x="1187.5" y="229.1" font-size="14.7" fill="#1b1a28" textLength="65.9" lengthAdjust="spacingAndGlyphs" stroke="#1b1a28" stroke-width="0.3">118298.37</text>
<g clip-path="url(#cp)">
<text x="151.9" y="532.5" font-size="14.7" fill="#fff" textLength="39.7" lengthAdjust="spacingAndGlyphs" stroke="#fff" stroke-width="0.75">16/07</text>
<text x="315.9" y="532.5" font-size="14.7" fill="#fff" textLength="43.8" lengthAdjust="spacingAndGlyphs" stroke="#fff" stroke-width="0.3">06:00</text>
<text x="484.7" y="532.5" font-size="14.7" fill="#fff" textLength="38.4" lengthAdjust="spacingAndGlyphs" stroke="#fff" stroke-width="0.3">12:00</text>
<text x="650.5" y="532.5" font-size="14.7" fill="#fff" textLength="39.0" lengthAdjust="spacingAndGlyphs" stroke="#fff" stroke-width="0.3">18:00</text>
<text x="816.3" y="532.5" font-size="14.7" fill="#fff" textLength="37.9" lengthAdjust="spacingAndGlyphs" stroke="#fff" stroke-width="0.75">17/07</text>
<text x="979.2" y="532.5" font-size="14.7" fill="#fff" textLength="43.8" lengthAdjust="spacingAndGlyphs" stroke="#fff" stroke-width="0.3">06:00</text>
<text x="1145.3 1152.3 1161.6 1166.4 1175.2" y="532.5" font-size="14.7" fill="#fff" stroke="#fff" stroke-width="0.3">12:00</text>
</g>
</svg>
</body></html>
